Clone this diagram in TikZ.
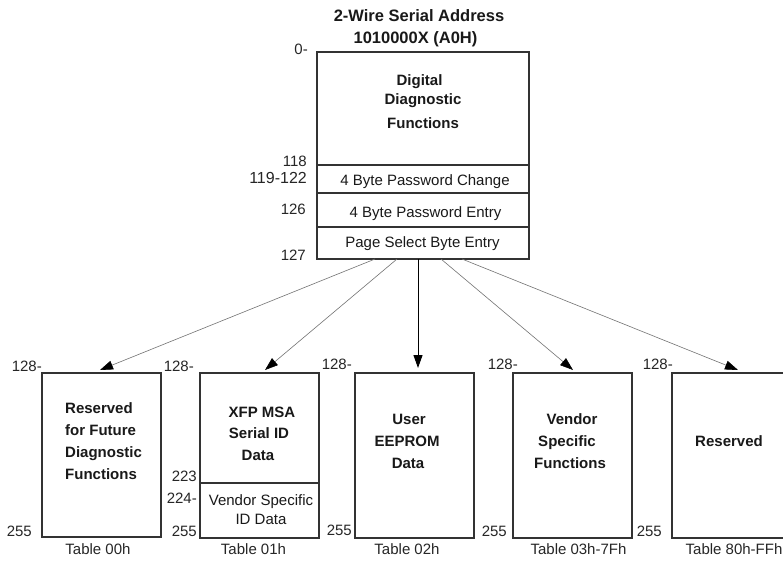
\documentclass[tikz,border=0pt]{standalone}
\usepackage{fontspec}
\setmainfont{Liberation Sans}
\usetikzlibrary{arrows.meta}
\tikzset{
  membox/.style={draw=black!80, line width=1.1pt, anchor=north west, inner sep=0pt, outer sep=0pt},
  lbl/.style={font=\fontsize{15}{17}\selectfont, inner sep=0pt, text=black!85},
  bt/.style={font=\bfseries\fontsize{15}{18}\selectfont, inner sep=0pt, text=black!90},
  rt/.style={font=\fontsize{15}{18}\selectfont, inner sep=0pt, text=black!90},
  ttl/.style={font=\bfseries\fontsize{16.5}{20}\selectfont, inner sep=0pt, text=black!90},
  thinarr/.style={-{Triangle[length=13pt,width=9pt,color=black]}, draw=black!55, line width=0.6pt},
  mainarr/.style={-{Triangle[length=13pt,width=9pt,color=black]}, draw=black, line width=1pt}
}
\begin{document}
\begin{tikzpicture}[x=1pt,y=-1pt]
\useasboundingbox (0,0) rectangle (783,563);
\clip (0,0) rectangle (783,563);
\fill[white] (0,0) rectangle (783,563);

% title
\node[ttl, anchor=base] (t1) at (419,21) {2-Wire Serial Address};
\node[ttl, anchor=base] (t2) at (415.5,43) {1010000X (A0H)};

% top box
\node[membox, minimum width=212pt, minimum height=207pt] (top) at (317,52) {};
\node[membox, minimum width=212pt, minimum height=28pt] (r1) at (317,165) {};
\node[membox, minimum width=212pt, minimum height=34pt] (r2) at (317,193) {};
\node[membox, minimum width=212pt, minimum height=32pt] (r3) at (317,227) {};

\node[bt, anchor=base] (d1) at (419.5,85) {Digital};
\node[bt, anchor=base] (d2) at (423,104) {Diagnostic};
\node[bt, anchor=base] (d3) at (423,128) {Functions};
\node[rt, anchor=base] (p1) at (425,185) {4 Byte Password Change};
\node[rt, anchor=base] (p2) at (425.5,217) {4 Byte Password Entry};
\node[rt, anchor=base] (p3) at (422.5,247) {Page Select Byte Entry};

\node[lbl, anchor=base east] (l0) at (308,54) {0-};
\node[lbl, anchor=base east] (l118) at (307,166) {118};
\node[lbl, anchor=base east, font=\fontsize{16}{18}\selectfont] (l119) at (307,183) {119-122};
\node[lbl, anchor=base east] (l126) at (306,214) {126};
\node[lbl, anchor=base east] (l127) at (306,260) {127};

% bottom boxes
\node[membox, minimum width=119pt, minimum height=164pt] (b1) at (42,373) {};
\node[membox, minimum width=119pt, minimum height=165pt] (b2) at (200,373) {};
\node[membox, minimum width=119pt, minimum height=55pt] (b2s) at (200,483) {};
\node[membox, minimum width=119pt, minimum height=165pt] (b3) at (355,373) {};
\node[membox, minimum width=119pt, minimum height=165pt] (b4) at (513,373) {};
\node[membox, minimum width=119pt, minimum height=165pt] (b5) at (672,373) {};

% box 1 text
\node[bt, anchor=base west] (x11) at (65,413) {Reserved};
\node[bt, anchor=base west] (x12) at (65,435) {for Future};
\node[bt, anchor=base west] (x13) at (65,457) {Diagnostic};
\node[bt, anchor=base west] (x14) at (65,479) {Functions};
% box 2 text
\node[bt, anchor=base] (x21) at (262,417) {XFP MSA};
\node[bt, anchor=base] (x22) at (259,438) {Serial ID};
\node[bt, anchor=base] (x23) at (258,460) {Data};
\node[rt, anchor=base] (x24) at (261,505) {Vendor Specific};
\node[rt, anchor=base] (x25) at (261,524) {ID Data};
% box 3 text
\node[bt, anchor=base] (x31) at (409,424) {User};
\node[bt, anchor=base] (x32) at (407,446) {EEPROM};
\node[bt, anchor=base] (x33) at (408,468) {Data};
% box 4 text
\node[bt, anchor=base] (x41) at (572,424) {Vendor};
\node[bt, anchor=base] (x42) at (567,446) {Specific};
\node[bt, anchor=base] (x43) at (570,468) {Functions};
% box 5 text
\node[bt, anchor=base] (x51) at (729,446) {Reserved};

% address labels
\node[lbl, anchor=base east] (a1t) at (42,371) {128-};
\node[lbl, anchor=base east] (a1b) at (32,536) {255};
\node[lbl, anchor=base east] (a2t) at (194,371) {128-};
\node[lbl, anchor=base east] (a2m) at (197,481) {223};
\node[lbl, anchor=base east] (a2n) at (197,503) {224-};
\node[lbl, anchor=base east] (a2b) at (197,536) {255};
\node[lbl, anchor=base east] (a3t) at (352,369) {128-};
\node[lbl, anchor=base east] (a3b) at (352,535) {255};
\node[lbl, anchor=base east] (a4t) at (518,369) {128-};
\node[lbl, anchor=base east] (a4b) at (507,536) {255};
\node[lbl, anchor=base east] (a5t) at (673,369) {128-};
\node[lbl, anchor=base east] (a5b) at (662,536) {255};

% table labels
\node[lbl, anchor=base] (tb1) at (98,554) {Table 00h};
\node[lbl, anchor=base] (tb2) at (253.5,554) {Table 01h};
\node[lbl, anchor=base] (tb3) at (407,554) {Table 02h};
\node[lbl, anchor=base] (tb4) at (578.5,554) {Table 03h-7Fh};
\node[lbl, anchor=base] (tb5) at (734,554) {Table 80h-FFh};

% arrows
\draw[thinarr] ([xshift=-48pt]top.south) -- ([xshift=-1.5pt,yshift=3pt]b1.north);
\draw[thinarr] ([xshift=-26pt]top.south) -- ([xshift=5.5pt,yshift=3pt]b2.north);
\draw[mainarr] ([xshift=-5pt]top.south) -- ([xshift=-5pt,yshift=5pt]top.south |- b3.north);
\draw[thinarr] ([xshift=18pt]top.south) -- ([xshift=0.5pt,yshift=3pt]b4.north);
\draw[thinarr] ([xshift=39pt]top.south) -- ([xshift=6.5pt,yshift=3pt]b5.north);
\end{tikzpicture}
\end{document}
